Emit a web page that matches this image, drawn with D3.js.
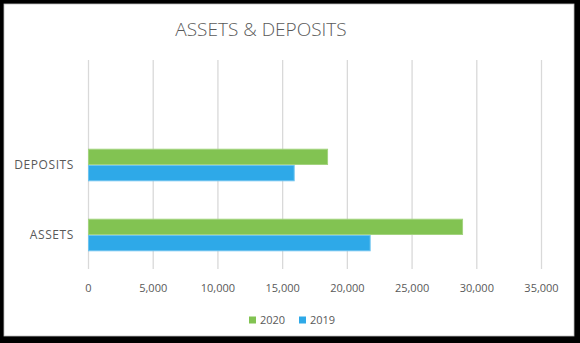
<!DOCTYPE html>
<html><head><meta charset="utf-8">
<script src="https://cdn.jsdelivr.net/npm/d3@7"></script>
<style>html,body{margin:0;padding:0;background:#fff;}</style>
</head><body>
<svg id="c" width="580" height="343"></svg>
<script>
const categories = ["ASSETS", "DEPOSITS", ""];
const seriesNames = ["2020", "2019"];
const values2020 = [28900, 18470, null];
const values2019 = [21760, 15890, null];
const xTicks = [0, 5000, 10000, 15000, 20000, 25000, 30000, 35000];
const colors = {"2020": "#82C352", "2019": "#2EA9E8"};
const strokes = {"2020": "#A3D37F", "2019": "#6CC3EF"};

const svg = d3.select("#c");
const W = 580, H = 343;
svg.append("rect").attr("width", W).attr("height", H).attr("fill", "#000");
svg.append("rect").attr("x", 4).attr("y", 4).attr("width", 570).attr("height", 332).attr("fill", "#fff").attr("stroke", "#bfbfbf").attr("stroke-width", 0.8);

const font = "'Open Sans', 'Noto Sans', sans-serif";
const plot = {left: 88, right: 541, top: 60, bottom: 270};

const x = d3.scaleLinear().domain([0, 35000]).range([plot.left, plot.right]);
const y = d3.scaleBand().domain(categories.slice().reverse()).range([plot.top, plot.bottom]).padding(0);
const y1 = d3.scaleBand().domain(seriesNames).range([0, y.bandwidth()]).paddingInner(0).paddingOuter(1.15);

// gridlines
svg.append("g").selectAll("line").data(xTicks).join("line")
  .attr("x1", d => x(d) + 0.5).attr("x2", d => x(d) + 0.5)
  .attr("y1", plot.top).attr("y2", plot.bottom - 1)
  .attr("stroke", "#d9d9d9").attr("stroke-width", 1.3);

// x axis labels
const xAxis = d3.axisBottom(x).tickValues(xTicks).tickSize(0).tickPadding(0).tickFormat(d3.format(","));
const gx = svg.append("g").attr("transform", `translate(0,${plot.bottom + 14})`).call(xAxis);
gx.select(".domain").remove();
gx.selectAll("text").attr("font-family", font).attr("font-size", 11).attr("fill", "#595959");

// y axis labels
const yAxis = d3.axisLeft(y).tickSize(0).tickPadding(14);
const gy = svg.append("g").attr("transform", `translate(${plot.left},0)`).call(yAxis);
gy.select(".domain").remove();
gy.selectAll("text").attr("font-family", font).attr("font-size", 12).attr("letter-spacing", 0.6).attr("fill", "#595959");

// bars
const rows = categories.map((c, i) => ({cat: c, "2020": values2020[i], "2019": values2019[i]}));
const groups = svg.append("g").selectAll("g").data(rows).join("g")
  .attr("transform", d => `translate(0,${y(d.cat)})`);
groups.selectAll("rect").data(d => seriesNames.filter(s => d[s] != null).map(s => ({s, v: d[s]}))).join("rect")
  .attr("x", x(0) + 0.5)
  .attr("y", d => y1(d.s) + 0.5)
  .attr("width", d => x(d.v) - x(0))
  .attr("height", y1.bandwidth() - 1)
  .attr("fill", d => colors[d.s])
  .attr("stroke", d => strokes[d.s]).attr("stroke-width", 1);

// title
svg.append("text").attr("x", 261).attr("y", 36).attr("text-anchor", "middle")
  .attr("font-family", font).attr("font-size", 19).attr("font-weight", 300).attr("fill", "#595959").text("ASSETS & DEPOSITS");

// legend
const legend = svg.append("g").attr("transform", "translate(249,320)");
const items = legend.selectAll("g").data(seriesNames).join("g")
  .attr("transform", (d, i) => `translate(${i * 50},0)`);
items.append("rect").attr("x", 0).attr("y", -3.5).attr("width", 7).attr("height", 7).attr("fill", d => colors[d]);
items.append("text").attr("x", 11).attr("y", 0).attr("dy", "0.35em")
  .attr("font-family", font).attr("font-size", 11).attr("fill", "#595959").text(d => d);
</script>
</body></html>
